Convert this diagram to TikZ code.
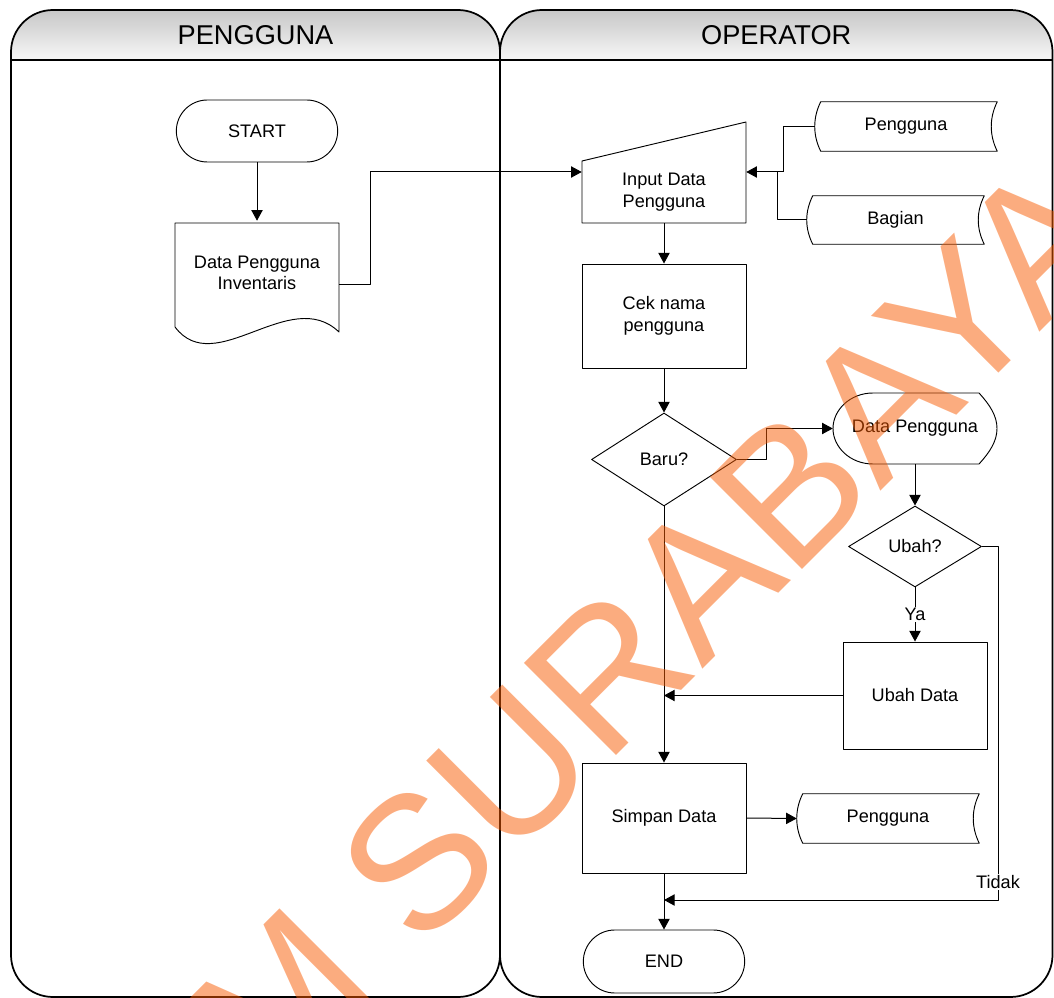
\documentclass[tikz,border=0pt]{standalone}
\usepackage{fontspec}
\setmainfont{Liberation Sans}
\usetikzlibrary{arrows.meta,shapes.geometric,shapes.misc,calc}
\definecolor{wmark}{RGB}{248,90,0}
% outline of a stored-data symbol round a node
\newcommand{\storedshape}[1]{\draw[line width=0.7pt] ($(#1.north west)+(6,0)$) -- (#1.north east)
  .. controls ($(#1.north east)+(-8,16)$) and ($(#1.south east)+(-8,-16)$) .. (#1.south east)
  -- ($(#1.south west)+(6,0)$)
  .. controls ($(#1.south west)+(-2,-16)$) and ($(#1.north west)+(-2,16)$) .. ($(#1.north west)+(6,0)$) -- cycle;}
\begin{document}
\begin{tikzpicture}[x=0.75pt, y=-0.75pt, line join=round, >={Triangle[length=8pt,width=8.5pt]},
  every node/.style={font=\fontsize{13.6}{16.2}\selectfont, align=center, inner sep=1pt},
  sz/.style 2 args={minimum width=#1*0.75pt, minimum height=#2*0.75pt},
  proc/.style={draw, rectangle, line width=0.7pt},
  term/.style={draw, rounded rectangle, line width=0.7pt},
  dec/.style={draw, diamond, line width=0.7pt, inner sep=0pt},
  box/.style={rectangle, inner sep=0pt},
  lane/.style={line width=1.3pt, rounded corners=31.5pt},
  head/.style={font=\fontsize{20.4}{24}\selectfont},
  lbl/.style={fill=white, inner sep=1pt},
  arr/.style={->, line width=0.75pt}]
\useasboundingbox (0,0) rectangle (1054,998);
% swimlanes
\foreach \l/\r/\t/\n in {11/500/PENGGUNA/hpeng, 500/1052.5/OPERATOR/hop}{
  \shade[top color=black!22, bottom color=black!3] (\l,60) -- (\l,52)
    arc[start angle=180, end angle=90, radius=31.5pt] -- (\r-42,10)
    arc[start angle=90, end angle=0, radius=31.5pt] -- (\r,60) -- cycle;
  \draw[lane] (\l,10) rectangle (\r,997);
  \draw[line width=1.3pt] (\l,60) -- (\r,60);
  \node[head] (\n) at ({(\l+\r)/2},35) {\t};
}
% nodes
\node[term, sz={164}{62}] (start) at (257,131) {START};
\node[box, sz={164}{104}] (doc) at (257,273) {Data Pengguna\\Inventaris};
\node[box, sz={164}{62}] (inp) at (664,192) {Input Data\\Pengguna};
\node[box, sz={182}{49}] (st1) at (906,126.5) {Pengguna};
\node[box, sz={177}{48}] (bag) at (895.5,220) {Bagian};
\node[proc, sz={164}{104}] (cek) at (664,316) {Cek nama\\pengguna};
\node[dec, sz={145}{93}] (baru) at (664,459.5) {Baru?};
\node[box, sz={164}{71}] (dp) at (915,428.5) {Data Pengguna};
\node[dec, sz={133}{81}] (ubah) at (915,546.5) {Ubah?};
\node[proc, sz={144}{107}] (ubahdata) at (915,695.5) {Ubah Data};
\node[proc, sz={164}{110}] (simpan) at (664,818) {Simpan Data};
\node[box, sz={182}{49}] (st2) at (888,818.5) {Pengguna};
\node[term, sz={164}{63}] (end) at (664,961.5) {END};
% hand drawn outlines
\draw[shift={(doc.center)}, line width=0.7pt] (-82,54) -- (-82,-50) -- (82,-50) -- (82,59)
  .. controls (33,12) and (-42,107) .. (-82,54) -- cycle;
\draw[shift={(inp.center)}, line width=0.7pt] (-82,-31) -- (82,-70) -- (82,31) -- (-82,31) -- cycle;
\draw[shift={(dp.center)}, line width=0.7pt] (-42,-35.5) -- (64,-35.5)
  .. controls (75,-23.5) and (82,-12.5) .. (82,0) .. controls (82,12.5) and (75,23.5) .. (64,35.5)
  -- (-42,35.5) .. controls (-65,35.5) and (-82,18.5) .. (-82,0)
  .. controls (-82,-18.5) and (-65,-35.5) .. (-42,-35.5) -- cycle;
\storedshape{st1}
\storedshape{bag}
\storedshape{st2}
% connectors
\coordinate (m1) at (783,172);
\coordinate (m2) at (777,172);
\coordinate (m3) at (998,900);
\draw[arr] (start.south) -- (doc.north);
\draw[arr] ($(doc.east)+(0,12)$) -- ++(31,0) |- (inp.west |- m1);
\draw[line width=0.75pt] (st1.west) -| (m1);
\draw[line width=0.75pt] (bag.west) -| (m2);
\draw[arr] (m1) -- (inp.east |- m1);
\draw[arr] (inp.south) -- (cek.north);
\draw[arr] (cek.south) -- (baru.north);
\draw[arr] (baru.east) -- ++(30,0) |- (dp.west);
\draw[arr] (dp.south) -- (ubah.north);
\draw[arr] (ubah.south) -- node[lbl] (ya) {Ya} (ubahdata.north);
\draw[arr] (ubahdata.west) -- (ubahdata.west -| baru.south);
\draw[arr] (baru.south) -- (simpan.north);
\draw[arr] (simpan.east) -- (st2.west);
\draw[arr] (ubah.east) -| (m3) -- (m3 -| simpan.south);
\node[lbl] (tidak) at (998,882) {Tidak};
\draw[arr] (simpan.south) -- (end.north);
% watermark
\begin{scope}
\clip (0,0) rectangle (1054,998);
\node[rotate=45, text=wmark, text opacity=0.5, inner sep=0pt, font=\fontsize{142}{142}\selectfont] (wm) at (654,626) {M SURABAYA};
\end{scope}
\end{tikzpicture}
\end{document}
